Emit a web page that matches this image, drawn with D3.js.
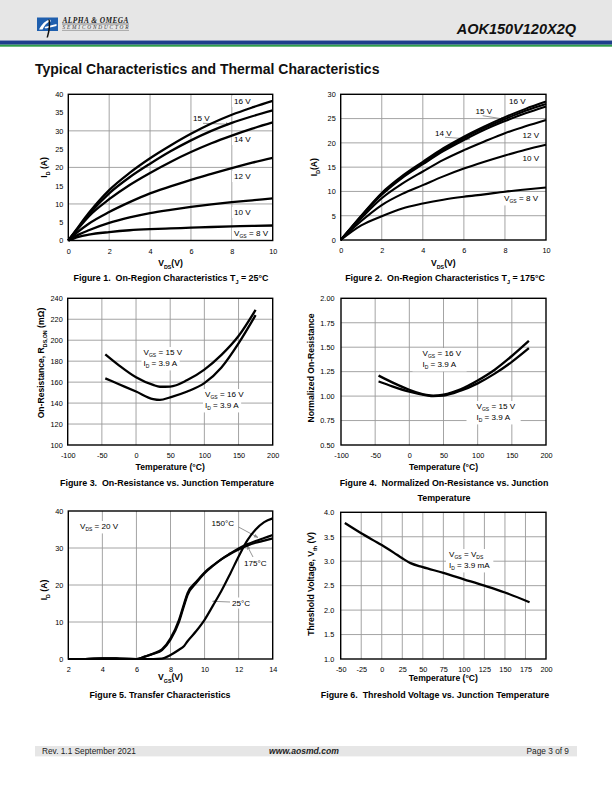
<!DOCTYPE html>
<html><head><meta charset="utf-8">
<script src="https://cdn.jsdelivr.net/npm/d3@7"></script>
<style>
body{margin:0;background:#fff}
svg{display:block;font-family:"Liberation Sans",Arial,Helvetica,sans-serif}
text{white-space:pre}
</style>
</head><body>
<svg id="c" width="612" height="792"></svg>
<script>
// ---------- DATA ----------
// Figure 1: On-region characteristics, Tj = 25C
const fig1Vds = [0,0.5,1,2,3,4,5,6,7,8,9,10];
const fig1Id16 = [0,3.8,7.5,13.8,18.5,22.5,26,29.2,32,34.4,36.4,38.2];
const fig1Id15 = [0,3.6,7.1,12.9,17.3,21,24.4,27.4,30,32.2,34,35.6];
const fig1Id14 = [0,3.4,6.6,11.3,15.2,18.5,21.5,24.2,26.6,28.7,30.6,32.3];
const fig1Id12 = [0,2.5,4.6,7.8,10.5,12.9,14.8,16.6,18.2,19.8,21.3,22.6];
const fig1Id10 = [0,1.6,2.8,4.8,6.3,7.5,8.4,9.2,9.9,10.5,11.0,11.5];
const fig1Id8  = [0,1.0,1.6,2.3,2.8,3.1,3.3,3.5,3.7,3.85,4.0,4.1];
const fig1XTicks = [0,2,4,6,8,10];
const fig1YTicks = [0,5,10,15,20,25,30,35,40];
const fig1XGrid = [2,4,6,8];
const fig1YGrid = [10,20,30];

// Figure 2: On-region characteristics, Tj = 175C
const fig2Vds = [0,1,2,3,4,5,6,7,8,9,10];
const fig2Id16 = [0,5.0,9.7,13.2,16.1,18.9,21.3,23.4,25.3,27.0,28.5];
const fig2Id15 = [0,4.9,9.5,13.0,15.9,18.6,21.0,23.1,24.9,26.6,28.0];
const fig2Id14 = [0,4.8,9.3,12.8,15.6,18.3,20.6,22.7,24.5,26.1,27.5];
const fig2Id12 = [0,4.5,8.6,11.6,14.1,16.5,18.5,20.3,22.0,23.4,24.7];
const fig2Id10 = [0,3.9,7.2,9.5,11.3,13.1,14.7,16.1,17.4,18.6,19.6];
const fig2Id8  = [0,3.0,4.9,6.5,7.5,8.3,8.9,9.4,9.95,10.4,10.8];
const fig2XTicks = [0,2,4,6,8,10];
const fig2YTicks = [0,5,10,15,20,25,30];
const fig2XGrid = [2,4,6,8];
const fig2YGrid = [5,10,15,20,25];

// Figure 3: On-resistance vs junction temperature
const fig3T = [-45,-25,0,25,35,50,75,100,125,150,175];
const fig3R15 = [186.5,176,164.6,157.3,155.6,155.8,162,172,186,204,229];
const fig3R16 = [163.6,158,151,143.8,143,145.5,151,159,174,197,224];
const fig3XTicks = [-100,-50,0,50,100,150,200];
const fig3YTicks = [100,120,140,160,180,200,220,240];
const fig3XGrid = [-50,0,50,100,150];
const fig3YGrid = [120,140,160,180,200,220];

// Figure 4: Normalized on-resistance vs junction temperature
const fig4T = [-45,-25,0,25,35,50,75,100,125,150,175];
const fig4N16 = [1.21,1.14,1.065,1.012,1.005,1.015,1.07,1.16,1.27,1.41,1.565];
const fig4N15 = [1.15,1.10,1.045,1.008,1.0,1.005,1.055,1.13,1.23,1.35,1.49];
const fig4XTicks = [-100,-50,0,50,100,150,200];
const fig4YTicks = [0.5,0.75,1.0,1.25,1.5,1.75,2.0];
const fig4XGrid = [-50,0,50,100,150];
const fig4YGrid = [0.75,1.0,1.25,1.5,1.75];

// Figure 5: Transfer characteristics
const fig5Vgs = [2,3,4,4.5,5,6,6.5,7,7.5,8,8.5,8.8,9,9.5,10,10.5,11,11.5,12,12.5,13,13.5,14];
const fig5Id150 = [0,0,0.2,0.2,0.1,0,0.6,1.4,2.4,5.2,10,14.5,17.3,20.5,23.2,25.2,27,28.5,29.9,31,31.9,32.7,33.5];
const fig5Id175 = [0,0,0.2,0.2,0.1,0,0.7,1.5,2.6,5.6,10.6,15,17.8,20.8,23.4,25.3,27,28.4,29.6,30.6,31.4,32,32.6];
const fig5Id25  = [0,0,0,0,0,0,0,0,0.1,1.1,2.5,3.5,4.8,7.5,10.6,14.5,18.5,23,27.7,32,35,37,38];
const fig5XTicks = [2,4,6,8,10,12,14];
const fig5YTicks = [0,10,20,30,40];
const fig5XGrid = [4,6,8,10,12];
const fig5YGrid = [10,20,30];

// Figure 6: Threshold voltage vs junction temperature
const fig6T = [-45,-25,0,15,25,35,50,75,100,125,150,180];
const fig6Vth = [3.78,3.57,3.33,3.17,3.06,2.96,2.88,2.76,2.63,2.5,2.36,2.16];
const fig6XTicks = [-50,-25,0,25,50,75,100,125,150,175,200];
const fig6YTicks = [1.0,1.5,2.0,2.5,3.0,3.5,4.0];
const fig6XGrid = [-25,0,25,50,75,100,125,150,175];
const fig6YGrid = [1.5,2.0,2.5,3.0,3.5];

// ---------- DRAWING ----------
const svg = d3.select('#c');
const TICK_FS = 7.3, TITLE_FS = 8.6, CAP_FS = 8.9, ANN_FS = 8.1;
const fmtInt = d => String(d);
const fmt2 = d => d.toFixed(2);
const fmt1 = d => d.toFixed(1);

function rich(t, parts, fs){
  let shifted = 0;
  parts.forEach(p => {
    const isSub = p.startsWith('_');
    const s = isSub ? p.slice(1) : p;
    const ts = t.append('tspan').text(s);
    const target = isSub ? fs*0.3 : 0;
    if (target !== shifted){ ts.attr('dy', target - shifted); shifted = target; }
    if (isSub) ts.attr('font-size', fs*0.62);
  });
  return t;
}

const defs = svg.append('defs');
defs.append('marker').attr('id','arr').attr('viewBox','0 0 10 10').attr('refX',9).attr('refY',5)
  .attr('markerWidth',5).attr('markerHeight',5).attr('orient','auto')
  .append('path').attr('d','M0,1 L10,5 L0,9 Z').attr('fill','#8a8a8a');

function chart(o){
  const x = d3.scaleLinear().domain(o.xd).range([o.x0,o.x1]);
  const y = d3.scaleLinear().domain(o.yd).range([o.y1,o.y0]);
  const g = svg.append('g');
  const grid = g.append('g').attr('stroke','#9a9a9a').attr('stroke-width',0.9);
  grid.selectAll(null).data(o.xGrid).join('line')
    .attr('x1',d=>x(d)).attr('x2',d=>x(d)).attr('y1',o.y0).attr('y2',o.y1);
  grid.selectAll(null).data(o.yGrid).join('line')
    .attr('y1',d=>y(d)).attr('y2',d=>y(d)).attr('x1',o.x0).attr('x2',o.x1);
  const ya = g.append('g').attr('transform',`translate(${o.x0},0)`)
    .call(d3.axisLeft(y).tickValues(o.yTicks).tickSize(0).tickPadding(o.yPad||5).tickFormat(o.yFmt||fmtInt));
  const xa = g.append('g').attr('transform',`translate(0,${o.y1})`)
    .call(d3.axisBottom(x).tickValues(o.xTicks).tickSize(0).tickPadding(8).tickFormat(o.xFmt||fmtInt));
  [ya,xa].forEach(a=>{ a.select('.domain').remove(); a.attr('font-family',null).attr('font-size',TICK_FS);
    a.selectAll('text').attr('fill','#000'); });
  rich(g.append('text').attr('x',o.xtX ?? (o.x0+o.x1)/2).attr('y',o.xtY).attr('text-anchor','middle')
    .attr('font-size',TITLE_FS).attr('font-weight','bold'), o.xTitle, TITLE_FS);
  rich(g.append('text').attr('transform',`translate(${o.ytX},${o.ytY ?? (o.y0+o.y1)/2}) rotate(-90)`)
    .attr('text-anchor','middle').attr('font-size',TITLE_FS).attr('font-weight','bold'), o.yTitle, TITLE_FS);
  o.caps.forEach(c=>{
    rich(g.append('text').attr('x',c.x).attr('y',c.y).attr('text-anchor','middle')
      .attr('font-size',CAP_FS).attr('font-weight','bold'), c.parts, CAP_FS);
  });
  const annG = g.append('g');
  const curveG = g.append('g');
  (o.anns||[]).forEach(a=>{
    const t = rich(annG.append('text').attr('x',a.x).attr('y',a.y).attr('font-size',ANN_FS).attr('text-anchor',a.anchor||'start'), a.parts, ANN_FS);
    const b = t.node().getBBox();
    annG.insert('rect','text').attr('x',b.x-(a.padX??2)).attr('y',b.y-1).attr('width',b.width+2*(a.padX??2)).attr('height',b.height+2).attr('fill','#fff');
  });
  (o.arrows||[]).forEach(a=>{
    annG.append('line').attr('x1',a[0]).attr('y1',a[1]).attr('x2',a[2]).attr('y2',a[3])
      .attr('stroke','#8a8a8a').attr('stroke-width',0.9).attr('marker-end','url(#arr)');
  });
  const line = d3.line().x(d=>x(d[0])).y(d=>y(d[1])).curve(d3.curveMonotoneX);
  o.series.forEach(s=>{
    curveG.append('path').attr('d',line(o.xs.map((v,i)=>[v,s[i]])))
      .attr('fill','none').attr('stroke','#000').attr('stroke-width',o.sw||2.3).attr('stroke-linejoin','round');
  });
  g.append('rect').attr('x',o.x0).attr('y',o.y0).attr('width',o.x1-o.x0).attr('height',o.y1-o.y0)
    .attr('fill','none').attr('stroke','#000').attr('stroke-width',1.4);
  return {x,y,g};
}

// ---------- HEADER ----------
svg.append('rect').attr('x',0).attr('y',0).attr('width',612).attr('height',40.5).attr('fill','#e6e6e6');
svg.append('rect').attr('x',0).attr('y',40.5).attr('width',612).attr('height',4.2).attr('fill','#1e3f8c');
svg.append('rect').attr('x',0).attr('y',44.7).attr('width',612).attr('height',2).attr('fill','#2f9e4a');
// logo
svg.append('rect').attr('x',37).attr('y',17.5).attr('width',21).attr('height',13.5).attr('fill','#1f5fae');
svg.append('path').attr('d','M39,29.5 C42,24 45.5,20.5 50,19.5 L51,21.3 C47,22.3 44.5,25 42.5,29.5 Z M44.5,27 L56.5,24 L56.5,26 L45.5,28.5 Z').attr('fill','#fff');
svg.append('path').attr('d','M48.3,19.5 C49.3,24 48.5,31 46.5,37.5 L48,37.5 C50,31 50.8,25 49.8,19.5 Z').attr('fill','#111');
svg.append('text').attr('x',62.5).attr('y',22.5).attr('font-family','"Liberation Serif",serif').attr('font-style','italic')
  .attr('font-weight','bold').attr('font-size',7.4).attr('textLength',66).attr('fill','#222').text('ALPHA & OMEGA');
svg.append('line').attr('x1',62).attr('x2',129).attr('y1',24).attr('y2',24).attr('stroke','#444').attr('stroke-width',0.6);
svg.append('text').attr('x',62.5).attr('y',29.3).attr('font-family','"Liberation Serif",serif').attr('font-style','italic')
  .attr('font-size',5.3).attr('textLength',66).attr('fill','#333').text('SEMICONDUCTOR');
svg.append('line').attr('x1',62).attr('x2',129).attr('y1',30.4).attr('y2',30.4).attr('stroke','#666').attr('stroke-width',0.5);
svg.append('text').attr('x',576).attr('y',33.5).attr('text-anchor','end').attr('font-size',14.5)
  .attr('font-weight','bold').attr('font-style','italic').attr('fill','#111').text('AOK150V120X2Q');

// title
svg.append('text').attr('x',35).attr('y',73.5).attr('font-size',14).attr('font-weight','bold').attr('fill','#111')
  .text('Typical Characteristics and Thermal Characteristics');

// ---------- FIGURES ----------
chart({x0:68.3,x1:272.7,y0:94.3,y1:240.5,xd:[0,10],yd:[0,40],
  xTicks:fig1XTicks,yTicks:fig1YTicks,xGrid:fig1XGrid,yGrid:fig1YGrid,
  xTitle:['V','_DS','(V)'],xtY:266,yTitle:['I','_D',' (A)'],ytX:47,
  caps:[{x:171,y:281,parts:['Figure 1.  On-Region Characteristics T','_J',' = 25°C']}],
  xs:fig1Vds,series:[fig1Id16,fig1Id15,fig1Id14,fig1Id12,fig1Id10,fig1Id8],
  anns:[{x:234,y:104,parts:['16 V']},{x:193,y:121,parts:['15 V'],padX:0},{x:234,y:142,parts:['14 V']},
        {x:234,y:179,parts:['12 V']},{x:234,y:215,parts:['10 V']},{x:234,y:236,parts:['V','_GS',' = 8 V']}],
  arrows:[[203,123.3,230,124.3]]});

chart({x0:340.7,x1:546,y0:94.3,y1:240,xd:[0,10],yd:[0,30],
  xTicks:fig2XTicks,yTicks:fig2YTicks,xGrid:fig2XGrid,yGrid:fig2YGrid,
  xTitle:['V','_DS','(V)'],xtY:266,yTitle:['I','_D','(A)'],ytX:317,
  caps:[{x:445,y:281,parts:['Figure 2.  On-Region Characteristics T','_J',' = 175°C']}],
  xs:fig2Vds,series:[fig2Id16,fig2Id15,fig2Id14,fig2Id12,fig2Id10,fig2Id8],sw:2.1,
  anns:[{x:509,y:104,parts:['16 V']},{x:475.5,y:114,parts:['15 V'],padX:0},{x:435,y:135.5,parts:['14 V'],padX:0},
        {x:522.5,y:138,parts:['12 V']},{x:522.5,y:161,parts:['10 V']},{x:504,y:201,parts:['V','_GS',' = 8 V']}],
  arrows:[[482.7,115.7,505,119.3],[445,137.3,470,139]]});

chart({x0:67.7,x1:272.7,y0:298.3,y1:445,xd:[-100,200],yd:[100,240],
  xTicks:fig3XTicks,yTicks:fig3YTicks,xGrid:fig3XGrid,yGrid:fig3YGrid,
  xTitle:['Temperature (°C)'],xtY:470,yTitle:['On-Resistance, R','_DS,ON',' (mΩ)'],ytX:44,ytY:363,
  caps:[{x:167,y:486,parts:['Figure 3.  On-Resistance vs. Junction Temperature']}],
  xs:fig3T,series:[fig3R15,fig3R16],
  anns:[{x:143.5,y:355,parts:['V','_GS',' = 15 V']},{x:143.5,y:366,parts:['I','_D',' = 3.9 A']},
        {x:205,y:397,parts:['V','_GS',' = 16 V']},{x:205,y:408,parts:['I','_D',' = 3.9 A']}]});

chart({x0:341,x1:546,y0:298.3,y1:445,xd:[-100,200],yd:[0.5,2.0],yFmt:fmt2,yPad:6.5,
  xTicks:fig4XTicks,yTicks:fig4YTicks,xGrid:fig4XGrid,yGrid:fig4YGrid,
  xTitle:['Temperature (°C)'],xtY:470,yTitle:['Normalized On-Resistance'],ytX:314,ytY:368,
  caps:[{x:444,y:486,parts:['Figure 4.  Normalized On-Resistance vs. Junction']},{x:444,y:501,parts:['Temperature']}],
  xs:fig4T,series:[fig4N16,fig4N15],
  anns:[{x:422.5,y:356,parts:['V','_GS',' = 16 V'],padX:10},{x:422.5,y:367,parts:['I','_D',' = 3.9 A'],padX:10},
        {x:476.5,y:409,parts:['V','_GS',' = 15 V'],padX:10},{x:476.5,y:420,parts:['I','_D',' = 3.9 A'],padX:10}]});

chart({x0:68.3,x1:272.7,y0:511,y1:659,xd:[2,14],yd:[0,40],
  xTicks:fig5XTicks,yTicks:fig5YTicks,xGrid:fig5XGrid,yGrid:fig5YGrid,
  xTitle:['V','_GS','(V)'],xtY:680,yTitle:['I','_D',' (A)'],ytX:47,ytY:590,
  caps:[{x:160,y:698,parts:['Figure 5. Transfer Characteristics']}],
  xs:fig5Vgs,series:[fig5Id150,fig5Id175,fig5Id25],sw:2.2,
  anns:[{x:80,y:529,parts:['V','_DS',' = 20 V']},{x:211.5,y:526,parts:['150°C'],padX:0},
        {x:244,y:566,parts:['175°C'],padX:0},{x:232,y:605.5,parts:['25°C'],padX:1}],
  arrows:[[238.5,527,258,537.5],[253,557,247,545.5],[230,602,212.5,601.3]]});

chart({x0:340.7,x1:546,y0:512.3,y1:659,xd:[-50,200],yd:[1.0,4.0],yFmt:fmt1,yPad:6.5,
  xTicks:fig6XTicks,yTicks:fig6YTicks,xGrid:fig6XGrid,yGrid:fig6YGrid,
  xTitle:['Temperature (°C)'],xtY:681,yTitle:['Threshold Voltage, V','_th',' (V)'],ytX:314,ytY:584,
  caps:[{x:435,y:698,parts:['Figure 6.  Threshold Voltage vs. Junction Temperature']}],
  xs:fig6T,series:[fig6Vth],
  anns:[{x:449,y:557,parts:['V','_GS',' = V','_DS'],padX:3},{x:449,y:568,parts:['I','_D',' = 3.9 mA'],padX:3}]});

// ---------- FOOTER ----------
svg.append('rect').attr('x',35).attr('y',746).attr('width',542).attr('height',10.4).attr('fill','#e6e6e6');
svg.append('text').attr('x',42).attr('y',754).attr('font-size',8.3).attr('fill','#222').text('Rev. 1.1 September 2021');
svg.append('text').attr('x',304).attr('y',754).attr('text-anchor','middle').attr('font-size',8.6)
  .attr('font-weight','bold').attr('font-style','italic').attr('fill','#222').text('www.aosmd.com');
svg.append('text').attr('x',569).attr('y',754).attr('text-anchor','end').attr('font-size',8.3).attr('fill','#222').text('Page 3 of 9');
</script>
</body></html>
